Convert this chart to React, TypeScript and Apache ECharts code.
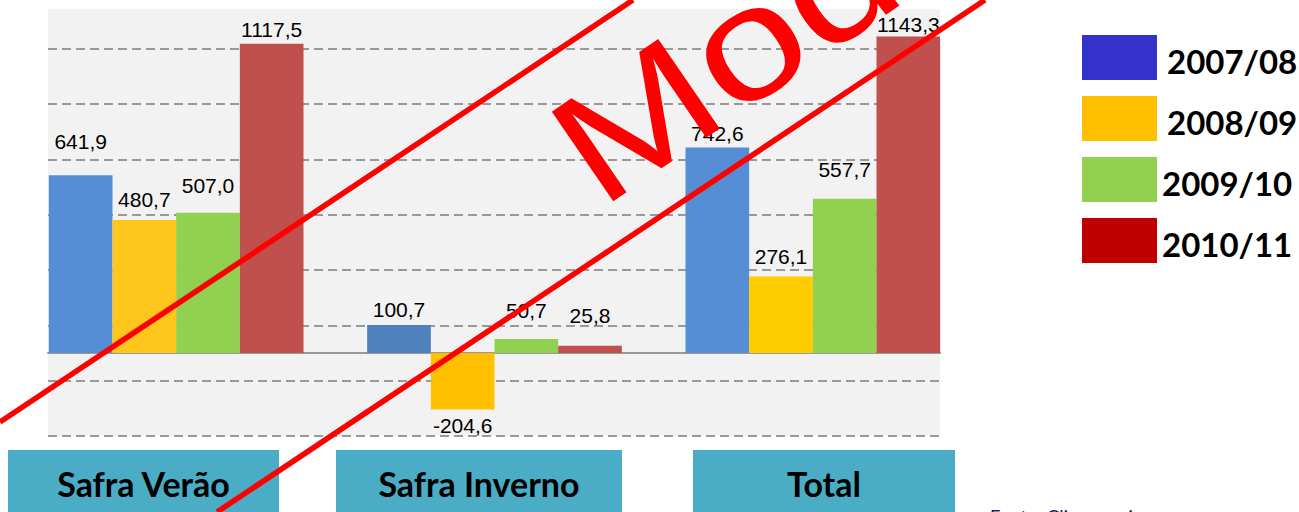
import React, { useEffect, useRef } from "react";
import * as echarts from "echarts";

const categories = ["Safra Verão", "Safra Inverno", "Total"];
const seriesNames = ["2007/08", "2008/09", "2009/10", "2010/11"];
const values0708 = [641.9, 100.7, 742.6];
const values0809 = [480.7, -204.6, 276.1];
const values0910 = [507.0, 50.7, 557.7];
const values1011 = [1117.5, 25.8, 1143.3];
const gridValues = [-300, -100, 100, 300, 500, 700, 900, 1100];
const sourceText = "Fonte: Clicomercio";
const watermarkText = "Modelo";

const seriesValues = [values0708, values0809, values0910, values1011];

// styles
const barColors = [
  ["#558ed5", "#4f81bd", "#558ed5"],
  ["#ffc61e", "#ffc000", "#ffcc00"],
  ["#92d050", "#92d050", "#92d050"],
  ["#c0504d", "#c0504d", "#c0504d"],
];
const legendColors = ["#3333cc", "#ffc000", "#92d050", "#c00000"];
const labelGap = [
  [23, 5, 3],
  [10, 5, 10],
  [17, 18, 19],
  [4, 20, 2],
];
const boxes = [
  { x: 8, w: 271 },
  { x: 336, w: 286 },
  { x: 693, w: 262 },
];

const fmt = (v: number) => v.toFixed(1).replace(".", ",");

const legendFont = { fontFamily: "Lato", fontWeight: "bold", fontSize: 33, color: "#000" };

export default function App() {
  const ref = useRef<HTMLDivElement>(null);
  useEffect(() => {
    if (!ref.current) return;
    const chart = echarts.init(ref.current, undefined, { renderer: "svg" });
    const bars = seriesNames.map((name, i) => ({
      type: "bar",
      name,
      xAxisIndex: 0,
      yAxisIndex: 0,
      barGap: "0%",
      barCategoryGap: "20%",
      z: 2,
      itemStyle: { color: barColors[i][0] },
      label: {
        show: true,
        formatter: (p: any) => fmt(p.value),
        fontFamily: '"Liberation Sans", Arial, sans-serif',
        fontSize: 21,
        color: "#000",
      },
      data: seriesValues[i].map((v, j) => ({
        value: v,
        itemStyle: { color: barColors[i][j] },
        label: { position: v < 0 ? "bottom" : "top", distance: labelGap[i][j] },
      })),
    }));

    // watermark geometry
    const angle = 0.6;
    const wmSize = 158;
    const upX = -Math.sin(angle);
    const upY = -Math.cos(angle);
    const baseX = 600;
    const baseY = 210;
    const central = 0.3465 * wmSize;

    const graphics: any[] = [];
    boxes.forEach((b, i) => {
      graphics.push({
        type: "rect",
        z: 5,
        shape: { x: b.x, y: 450, width: b.w, height: 70 },
        style: { fill: "#4bacc6" },
      });
      graphics.push({
        type: "text",
        z: 6,
        x: b.x + b.w / 2,
        y: 483,
        style: {
          text: categories[i],
          font: "bold 34px Lato",
          fill: "#000",
          align: "center",
          verticalAlign: "middle",
          textAlign: "center",
          textVerticalAlign: "middle",
        },
      });
    });
    graphics.push({
      type: "text",
      z: 6,
      x: 989,
      y: 506,
      style: {
        text: sourceText,
        font: "italic 20px Lato",
        fill: "#1f1f6e",
        align: "left",
        verticalAlign: "top",
        textAlign: "left",
        textVerticalAlign: "top",
      },
    });
    graphics.push({
      type: "text",
      z: 100,
      x: baseX + central * upX,
      y: baseY + central * upY,
      rotation: angle,
      scaleX: 1.22,
      style: {
        text: watermarkText,
        font: `${wmSize}px "Liberation Sans", Arial`,
        fill: "#ff0000",
        align: "left",
        verticalAlign: "middle",
        textAlign: "left",
        textVerticalAlign: "middle",
      },
    });
    graphics.push({
      type: "line",
      z: 100,
      shape: { x1: 0, y1: 422, x2: 633, y2: 0 },
      style: { stroke: "#ff0000", lineWidth: 5.5 },
    });
    graphics.push({
      type: "line",
      z: 100,
      shape: { x1: 217, y1: 512, x2: 985, y2: 0 },
      style: { stroke: "#ff0000", lineWidth: 5.5 },
    });

    chart.setOption({
      animation: false,
      grid: [
        { left: 17, right: 327, top: 9, bottom: 76 },
        { left: 48, right: 359, top: 9, bottom: 76, show: true, backgroundColor: "#f2f2f2", borderWidth: 0 },
      ],
      xAxis: [
        { type: "category", gridIndex: 0, data: categories, show: false },
        {
          type: "category",
          gridIndex: 1,
          data: [""],
          axisLine: { show: true, onZero: true, lineStyle: { color: "#999", width: 2 } },
          axisTick: { show: false },
          axisLabel: { show: false },
          splitLine: { show: false },
        },
      ],
      yAxis: [
        { type: "value", gridIndex: 0, min: -300, max: 1243, show: false },
        {
          type: "value",
          gridIndex: 1,
          min: -300,
          max: 1243,
          axisLine: { show: false },
          axisTick: { show: false },
          axisLabel: { show: false },
          splitLine: { show: false },
        },
      ],
      legend: {
        orient: "vertical",
        left: 1082,
        top: 35,
        padding: 0,
        itemWidth: 75,
        itemHeight: 45,
        itemGap: 16,
        icon: "rect",
        selectedMode: false,
        data: seriesNames.map((n, i) => ({ name: n, itemStyle: { color: legendColors[i] } })),
        formatter: (name: string) =>
          seriesNames.indexOf(name) < 2 ? `{a|${name}}` : `{b|${name}}`,
        textStyle: {
          ...legendFont,
          rich: {
            a: { ...legendFont, padding: [6, 0, 0, 5] },
            b: { ...legendFont, padding: [6, 0, 0, 0] },
          },
        },
      },
      series: [
        ...bars,
        {
          type: "line",
          name: "_grid",
          xAxisIndex: 1,
          yAxisIndex: 1,
          data: [],
          z: 1,
          markLine: {
            silent: true,
            z: 1,
            symbol: ["none", "none"],
            label: { show: false },
            lineStyle: { color: "#999", type: [9, 5], width: 2 },
            data: gridValues.map((v) => ({ yAxis: v })),
          },
        },
      ],
      graphic: { elements: graphics },
    });
    return () => chart.dispose();
  }, []);
  return (
    <div
      ref={ref}
      style={{ position: "absolute", left: 0, top: 0, width: 1299, height: 512 }}
    />
  );
}
